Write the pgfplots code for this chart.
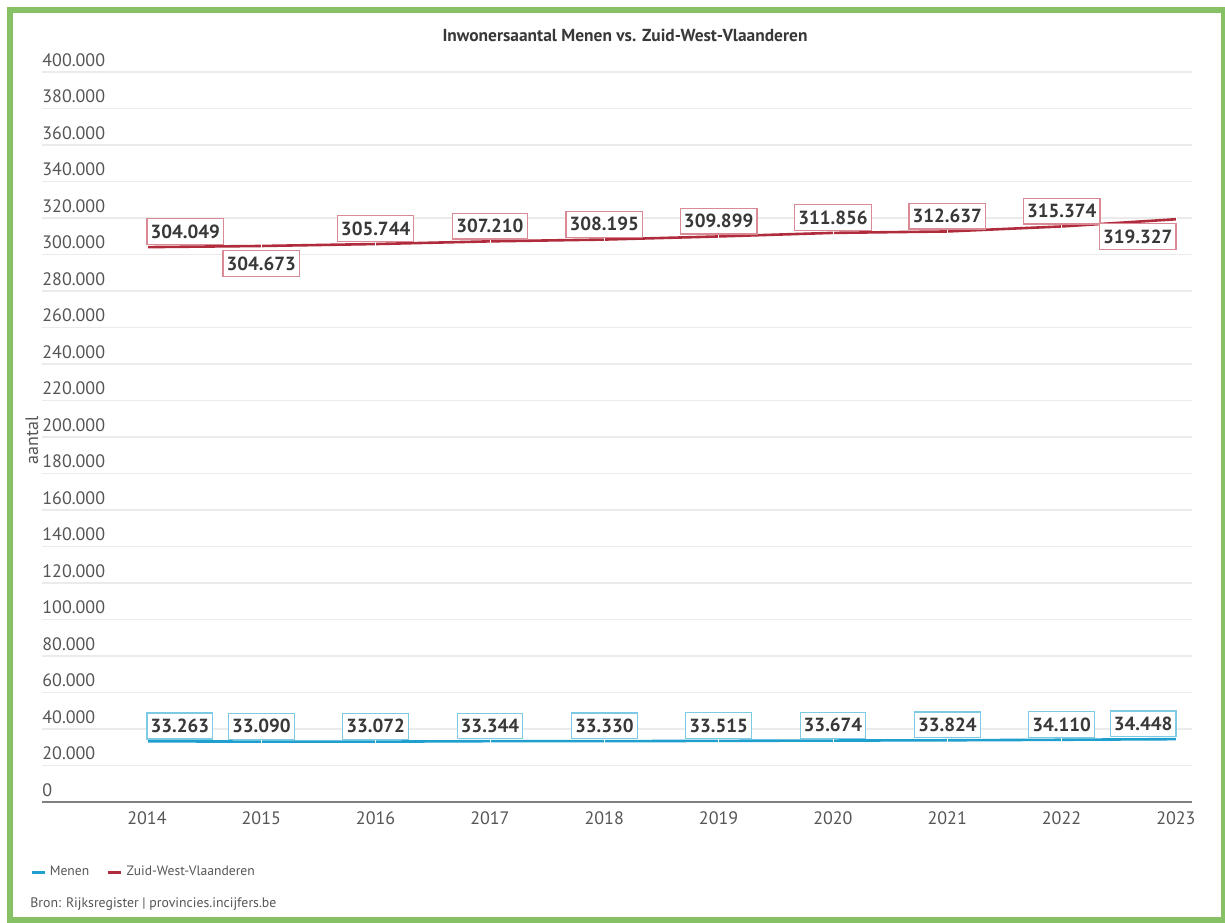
\documentclass[border=0pt]{standalone}
\usepackage{fontspec}
\setmainfont{PT Sans}
\usepackage{pgfplots}
\pgfplotsset{compat=1.18}
\usepackage{pgfplotstable}

\definecolor{menen}{HTML}{1F9FCE}
\definecolor{zwv}{HTML}{B02B3B}
\definecolor{menenbox}{HTML}{7CCAE4}
\definecolor{zwvbox}{HTML}{D98A94}
\definecolor{framec}{HTML}{86C166}
\definecolor{ticktext}{HTML}{555555}
\definecolor{labeltext}{HTML}{383838}
\definecolor{gridc}{HTML}{EBEBEB}

\pgfplotstableread{
year value
2014 33263
2015 33090
2016 33072
2017 33344
2018 33330
2019 33515
2020 33674
2021 33824
2022 34110
2023 34448
}\menen

\pgfplotstableread{
year value
2014 304049
2015 304673
2016 305744
2017 307210
2018 308195
2019 309899
2020 311856
2021 312637
2022 315374
2023 319327
}\zwv

% labels: #1 = box colour, #2 = anchor
\pgfplotsset{
  labels/.style 2 args={
    draw=none, no markers, forget plot,
    nodes near coords={\pgfmathprintnumber[fixed, precision=0, 1000 sep={.}, assume math mode=true]{\pgfplotspointmeta}},
    point meta=y,
    every node near coord/.append style={anchor=#2, font=\bfseries\fontsize{9.5}{11}\selectfont, text=labeltext, fill=white, inner xsep=1.8pt, inner ysep=3pt, line width=0.6pt, outer sep=0pt, draw=#1, yshift=1.2pt},
  },
}

\begin{document}
\begin{tikzpicture}
\path[use as bounding box] (0pt,0pt) rectangle (612.5pt,-461pt);
\draw[framec, line width=3pt] (5pt,-4.75pt) rectangle (611.75pt,-459.75pt);

\node[font=\bfseries\fontsize{8.7}{10}\selectfont, text=labeltext] at (312.5pt,-17.5pt) {Inwonersaantal Menen vs. Zuid-West-Vlaanderen};
\node[rotate=90, font=\fontsize{9}{11}\selectfont, text=ticktext] at (16pt,-220pt) {aantal};
\node[anchor=west, font=\fontsize{6.9}{9}\selectfont, text=ticktext, inner sep=0pt] at (15pt,-452pt) {Bron: Rijksregister | provincies.incijfers.be};

\begin{axis}[
  at={(21pt,-401pt)}, anchor=south west,
  width=575pt, height=365pt, scale only axis,
  xmin=2013.082, xmax=2023.14, ymin=0, ymax=400000,
  axis x line*=bottom, axis y line*=left,
  x axis line style={draw=black!50, line width=0.7pt, -},
  y axis line style={draw=none},
  major tick length=0pt,
  xtick={2014,...,2023},
  ytick={0,20000,...,400000},
  ymajorgrids, major grid style={draw=gridc, line width=0.6pt},
  scaled y ticks=false,
  xticklabel style={/pgf/number format/1000 sep={}, font=\fontsize{9}{11}\selectfont, text=ticktext, yshift=-1.5pt},
  yticklabel style={/pgf/number format/.cd, fixed, 1000 sep={.}, /tikz/.cd, anchor=south west, font=\fontsize{9}{11}\selectfont, text=ticktext, inner sep=1pt, xshift=-1pt, yshift=1.5pt},
  /pgf/number format/assume math mode=true,
  clip=false,
  legend style={at={(-0.0104,-0.0965)}, anchor=west, draw=none, fill=none, inner sep=0pt,
    legend columns=-1, font=\fontsize{6.8}{9}\selectfont, text=ticktext,
    /tikz/every even column/.append style={column sep=7pt}},
  legend image code/.code={\draw[#1, line width=1.2pt] (0pt,0pt) -- (6.5pt,0pt);},
]
\addplot[menen, line width=1.3pt, mark=|, mark size=1.2pt, mark options={white, line width=0.4pt}] table[x=year, y=value] {\menen};
\addlegendentry{Menen}
\addplot[zwv, line width=1.3pt, mark=|, mark size=1.2pt, mark options={white, line width=0.4pt}] table[x=year, y=value] {\zwv};
\addlegendentry{Zuid-West-Vlaanderen}

% Menen labels
\addplot[labels={menenbox}{south west}, restrict x to domain=2014:2014] table[x=year, y=value] {\menen};
\addplot[labels={menenbox}{south}, restrict x to domain=2015:2022] table[x=year, y=value] {\menen};
\addplot[labels={menenbox}{south east}, restrict x to domain=2023:2023] table[x=year, y=value] {\menen};
% Zuid-West-Vlaanderen labels
\addplot[labels={zwvbox}{south west}, restrict x to domain=2014:2014] table[x=year, y=value] {\zwv};
\addplot[labels={zwvbox}{north}, restrict x to domain=2015:2015, every node near coord/.append style={yshift=-3.5pt}] table[x=year, y=value] {\zwv};
\addplot[labels={zwvbox}{south}, restrict x to domain=2016:2022] table[x=year, y=value] {\zwv};
\addplot[labels={zwvbox}{north east}, restrict x to domain=2023:2023, every node near coord/.append style={yshift=-3.5pt}] table[x=year, y=value] {\zwv};
\end{axis}
\end{tikzpicture}
\end{document}
